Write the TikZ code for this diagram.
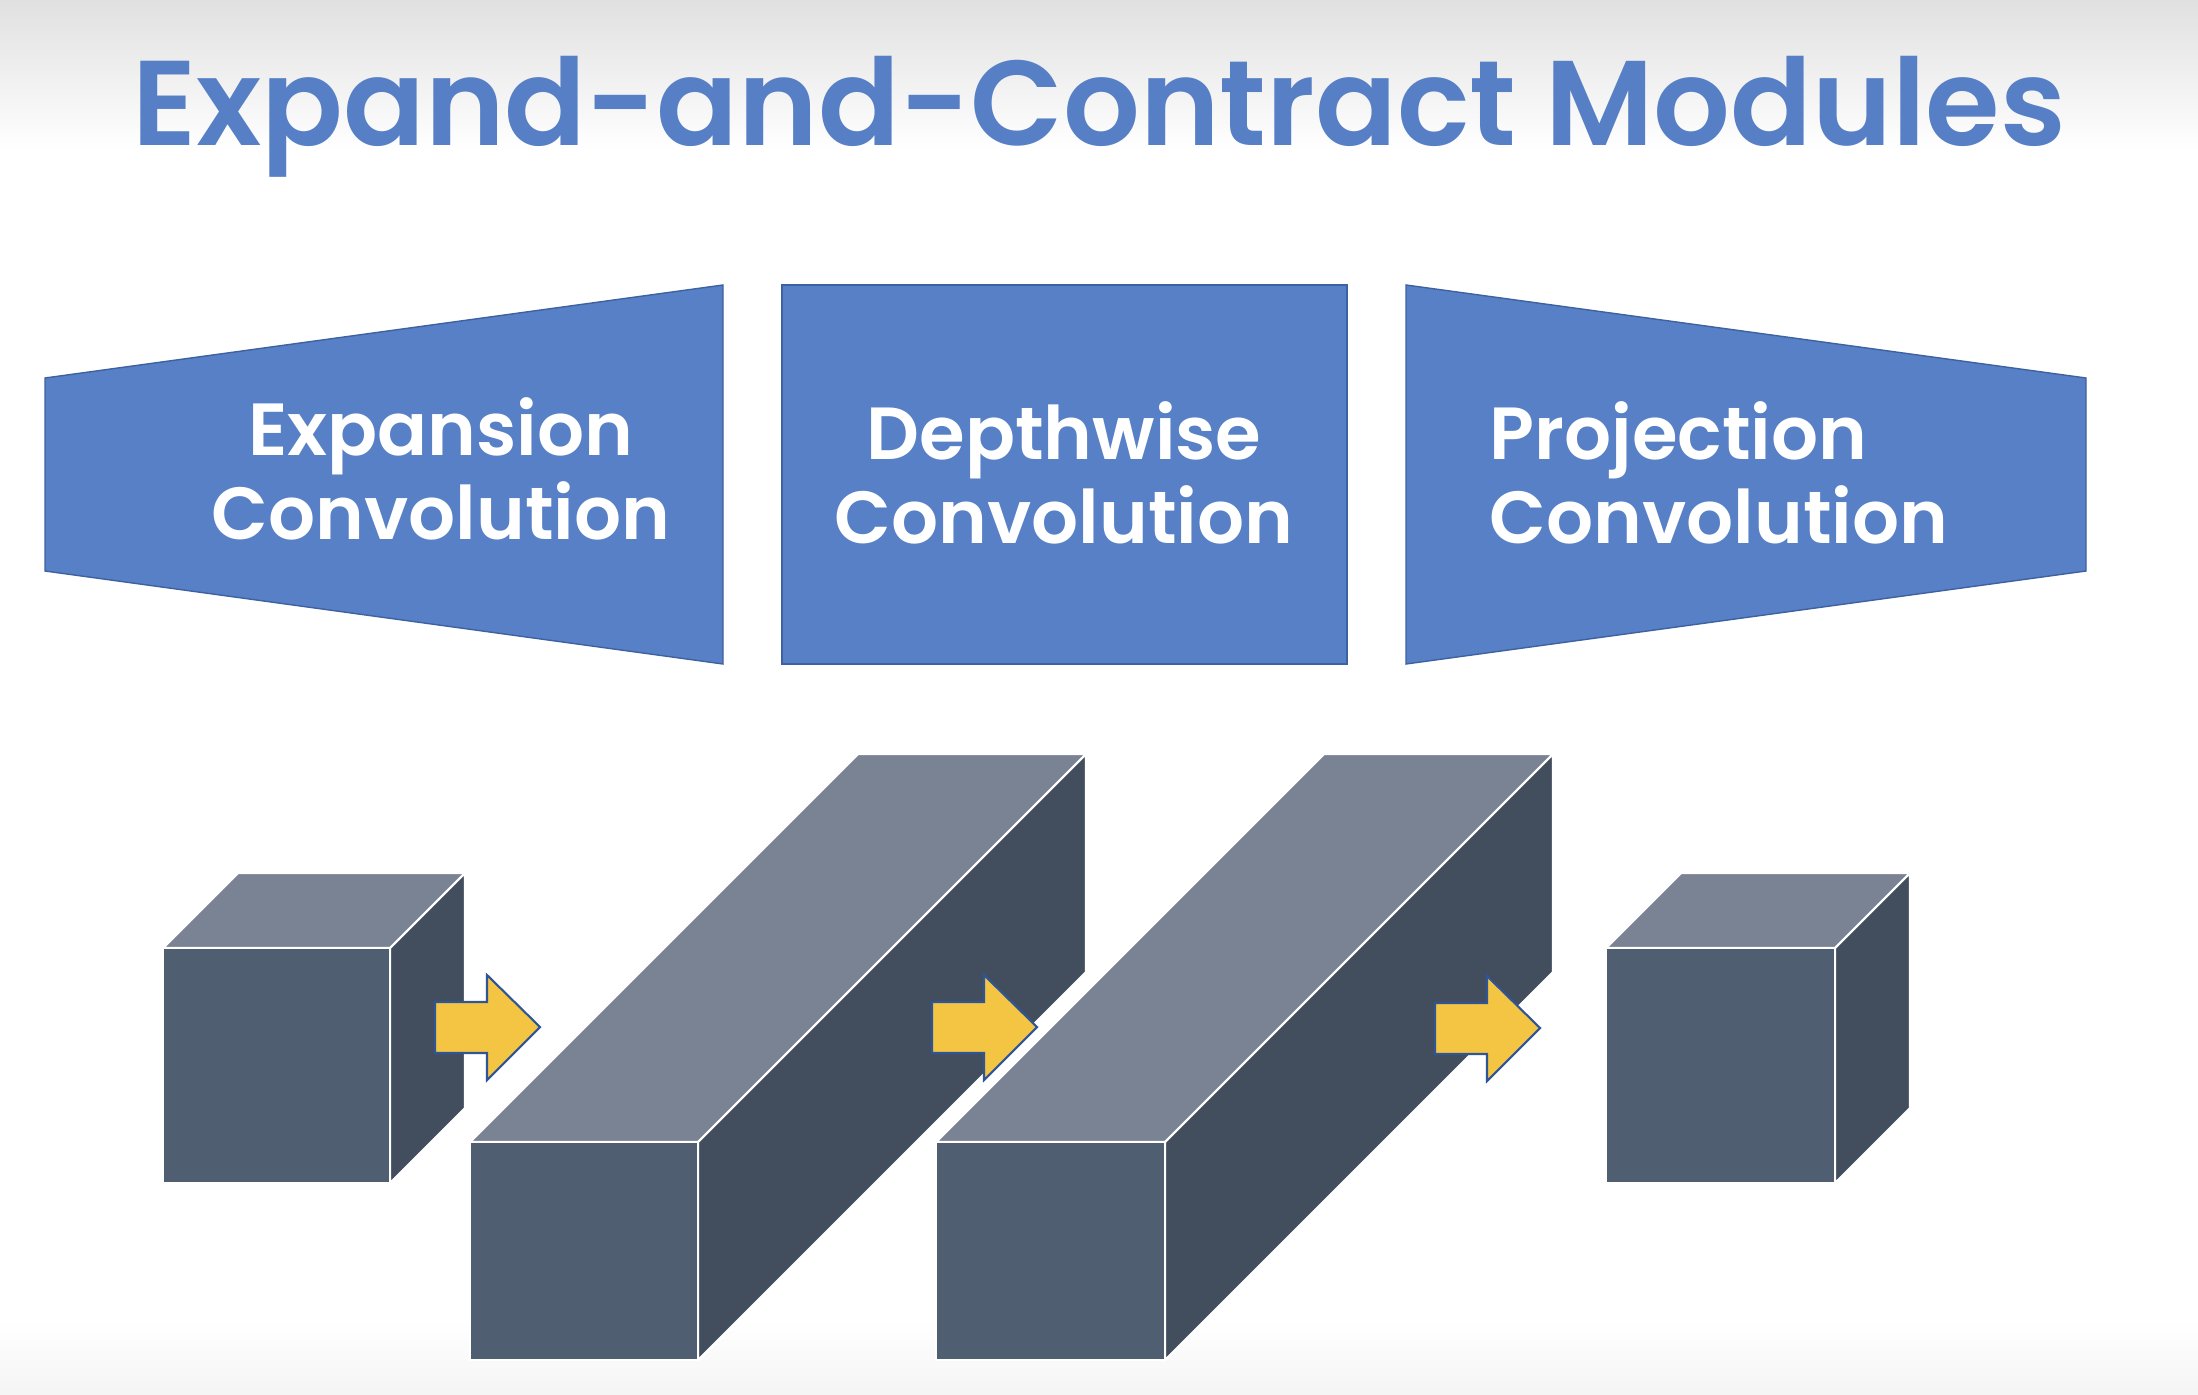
\documentclass[tikz,border=0pt]{standalone}
\usepackage{fontspec}
\setmainfont{Poppins}[BoldFont={Poppins SemiBold}]
\usetikzlibrary{calc}
\definecolor{titleblue}{RGB}{87,127,197}
\definecolor{stageblue}{RGB}{88,128,198}
\definecolor{stageline}{RGB}{62,98,160}
\definecolor{frontgrey}{RGB}{80,94,114}
\definecolor{topgrey}{RGB}{122,131,147}
\definecolor{sidegrey}{RGB}{66,77,94}
\definecolor{arrowyellow}{RGB}{244,197,66}
\definecolor{arrowline}{RGB}{47,85,151}
\newcommand{\edgewidth}{0.6pt}
\newcommand{\cubedepth}{75}
\newcommand{\longdepth}{388}
\tikzset{
  stage/.style={fill=stageblue, draw=stageline, line width=0.4pt},
  stagetext/.style={text=white, inner sep=0pt, font=\bfseries\fontsize{21}{23.9}\selectfont},
  frontface/.style={fill=frontgrey, draw=white, line width=\edgewidth},
  topface/.style={fill=topgrey, draw=white, line width=\edgewidth},
  sideface/.style={fill=sidegrey, draw=white, line width=\edgewidth},
  yarrow/.style={fill=arrowyellow, draw=arrowline, line width=0.6pt, line join=miter}
}

\begin{document}
\begin{tikzpicture}[x=0.01cm, y=-0.01cm]
\useasboundingbox (0,0) rectangle (2198,1394);
% background
\fill[white] (0,0) rectangle (2198,1394);
\shade[top color=black!12, bottom color=white] (0,0) rectangle (2198,150);
\shade[top color=white, bottom color=black!4] (0,1320) rectangle (2198,1394);

\node[anchor=base, inner sep=0pt, text=titleblue, font=\bfseries\fontsize{34.3}{40}\selectfont] (title) at (1099,146) {Expand-and-Contract Modules};

% stages
\draw[stage] (45,378) -- (723,285) -- (723,664) -- (45,571) -- cycle;
\draw[stage] (782,285) rectangle (1347,664);
\draw[stage] (1406,285) -- (2086,378) -- (2086,571) -- (1406,664) -- cycle;
\node[stagetext, align=center] (expand) at (441,469) {Expansion\\Convolution};
\node[stagetext, align=center] (depth) at (1064,473) {Depthwise\\Convolution};
\node[stagetext, align=left, anchor=west] (project) at (1489,473) {Projection\\Convolution};

% tensors
\coordinate (c1) at (163,948);
\coordinate (b1) at (470,1142);
\coordinate (b2) at (936,1142);
\coordinate (c2) at (1606,948);
%c1
\draw[topface] (c1) -- ++(\cubedepth,-\cubedepth) -- ++(227,0) -- ++(-\cubedepth,\cubedepth) -- cycle;
\draw[sideface] (c1) ++(227,0) -- ++(\cubedepth,-\cubedepth) -- ++(0,235) -- ++(-\cubedepth,\cubedepth) -- cycle;
\draw[frontface] (c1) rectangle ++(227,235);
%b1
\draw[topface] (b1) -- ++(\longdepth,-\longdepth) -- ++(228,0) -- ++(-\longdepth,\longdepth) -- cycle;
\draw[sideface] (b1) ++(228,0) -- ++(\longdepth,-\longdepth) -- ++(0,218) -- ++(-\longdepth,\longdepth) -- cycle;
\draw[frontface] (b1) rectangle ++(228,218);
%b2
\draw[topface] (b2) -- ++(\longdepth,-\longdepth) -- ++(229,0) -- ++(-\longdepth,\longdepth) -- cycle;
\draw[sideface] (b2) ++(229,0) -- ++(\longdepth,-\longdepth) -- ++(0,218) -- ++(-\longdepth,\longdepth) -- cycle;
\draw[frontface] (b2) rectangle ++(229,218);
%c2
\draw[topface] (c2) -- ++(\cubedepth,-\cubedepth) -- ++(229,0) -- ++(-\cubedepth,\cubedepth) -- cycle;
\draw[sideface] (c2) ++(229,0) -- ++(\cubedepth,-\cubedepth) -- ++(0,235) -- ++(-\cubedepth,\cubedepth) -- cycle;
\draw[frontface] (c2) rectangle ++(229,235);

% arrows
\coordinate (a1) at (435,1027);
\coordinate (a2) at (932,1027);
\coordinate (a3) at (1435,1028);
\draw[yarrow] (a1) ++(0,-25) -- ++(52,0) -- ++(0,-27) -- ++(53,52) -- ++(-53,53) -- ++(0,-27) -- ++(-52,0) -- cycle;
\draw[yarrow] (a2) ++(0,-25) -- ++(52,0) -- ++(0,-27) -- ++(53,52) -- ++(-53,53) -- ++(0,-27) -- ++(-52,0) -- cycle;
\draw[yarrow] (a3) ++(0,-25) -- ++(52,0) -- ++(0,-27) -- ++(53,52) -- ++(-53,53) -- ++(0,-27) -- ++(-52,0) -- cycle;
\end{tikzpicture}
\end{document}
